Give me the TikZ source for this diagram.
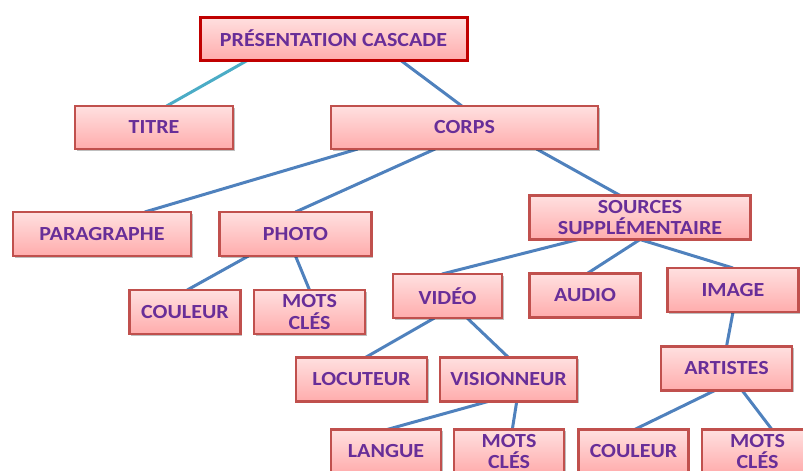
\documentclass[tikz,border=0pt]{standalone}
\usepackage{fontspec}
\setmainfont{Carlito}
\newfontfamily\boxfont[FakeStretch=1.1]{Carlito}
\usetikzlibrary{calc,shadows,backgrounds}
\definecolor{boxred}{HTML}{C0504D}
\definecolor{rootred}{HTML}{C00000}
\definecolor{filltop}{RGB}{255,224,224}
\definecolor{fillbot}{RGB}{255,172,172}
\definecolor{txtpurple}{RGB}{104,46,152}
\definecolor{linkblue}{HTML}{4F81BD}
\definecolor{linkteal}{HTML}{4BACC6}
% connector from a point on the lower edge of one box to a point on the upper edge of another
\newcommand{\treelink}[5][]{%
  \draw[link,#1] ($(#2.south west)!#3!(#2.south east)$) -- ($(#4.north west)!#5!(#4.north east)$);}
\begin{document}
\begin{tikzpicture}[x=1pt,y=-1pt,
  box/.style={draw=boxred, line width=2.4pt, top color=filltop, bottom color=fillbot,
    text=txtpurple, font=\boxfont\bfseries\fontsize{20}{21.5}\selectfont, align=center,
    inner sep=0pt, outer sep=0pt,
    drop shadow={shadow xshift=1.5pt, shadow yshift=-1.5pt, opacity=0.25, fill=black}},
  rootbox/.style={box, draw=rootred, line width=3pt},
  sz/.style 2 args={minimum width=#1pt, minimum height=#2pt},
  link/.style={draw=linkblue, line width=3pt}]
\useasboundingbox (0,0) rectangle (803,471);

% level 0 and 1
\node[rootbox, sz={267}{43}] (pc) at (333.5,38.5) {PRÉSENTATION CASCADE};
\node[box, sz={158}{43}] (titre) at (154,127.5) {TITRE};
\node[box, sz={267}{43}] (corps) at (464.5,127.5) {CORPS};

% level 2
\node[box, sz={178}{44}] (para) at (102,234) {PARAGRAPHE};
\node[box, sz={152}{44}] (photo) at (295.5,234) {PHOTO};
\node[box, sz={221}{44}] (sources) at (640,217.5) {SOURCES\\SUPPLÉMENTAIRE};

% level 3
\node[box, sz={111}{44}] (coul1) at (185,312) {COULEUR};
\node[box, sz={111}{44}] (mots1) at (309.5,312) {MOTS\\CLÉS};
\node[box, sz={109}{44}] (video) at (447.5,296) {VIDÉO};
\node[box, sz={111}{44}] (audio) at (585,295.5) {AUDIO};
\node[box, sz={131}{44}] (image) at (733,290) {IMAGE};

% level 4
\node[box, sz={131}{44}] (locut) at (361.5,379.5) {LOCUTEUR};
\node[box, sz={137}{44}] (vision) at (508.5,379.5) {VISIONNEUR};
\node[box, sz={131}{44}] (artistes) at (726.5,368.5) {ARTISTES};

% level 5
\node[box, sz={110}{44}] (langue) at (386,451.5) {LANGUE};
\node[box, sz={110}{44}] (mots2) at (509,451.5) {MOTS\\CLÉS};
\node[box, sz={110}{44}] (coul2) at (633.5,451.5) {COULEUR};
\node[box, sz={111}{44}] (mots3) at (757.5,451.5) {MOTS\\CLÉS};

\begin{scope}[on background layer]
  \treelink[draw=linkteal]{pc}{0.18}{titre}{0.58}
  \treelink{pc}{0.75}{corps}{0.49}
  \treelink{corps}{0.10}{para}{0.74}
  \treelink{corps}{0.39}{photo}{0.50}
  \treelink{corps}{0.77}{sources}{0.41}
  \treelink{photo}{0.19}{coul1}{0.52}
  \treelink{photo}{0.50}{mots1}{0.50}
  \treelink{sources}{0.22}{video}{0.45}
  \treelink{sources}{0.50}{audio}{0.52}
  \treelink{sources}{0.50}{image}{0.50}
  \treelink{image}{0.50}{artistes}{0.50}
  \treelink{video}{0.38}{locut}{0.53}
  \treelink{video}{0.68}{vision}{0.50}
  \treelink{vision}{0.35}{langue}{0.51}
  \treelink{vision}{0.56}{mots2}{0.53}
  \treelink{artistes}{0.41}{coul2}{0.51}
  \treelink{artistes}{0.62}{mots3}{0.63}
\end{scope}
\end{tikzpicture}
\end{document}
